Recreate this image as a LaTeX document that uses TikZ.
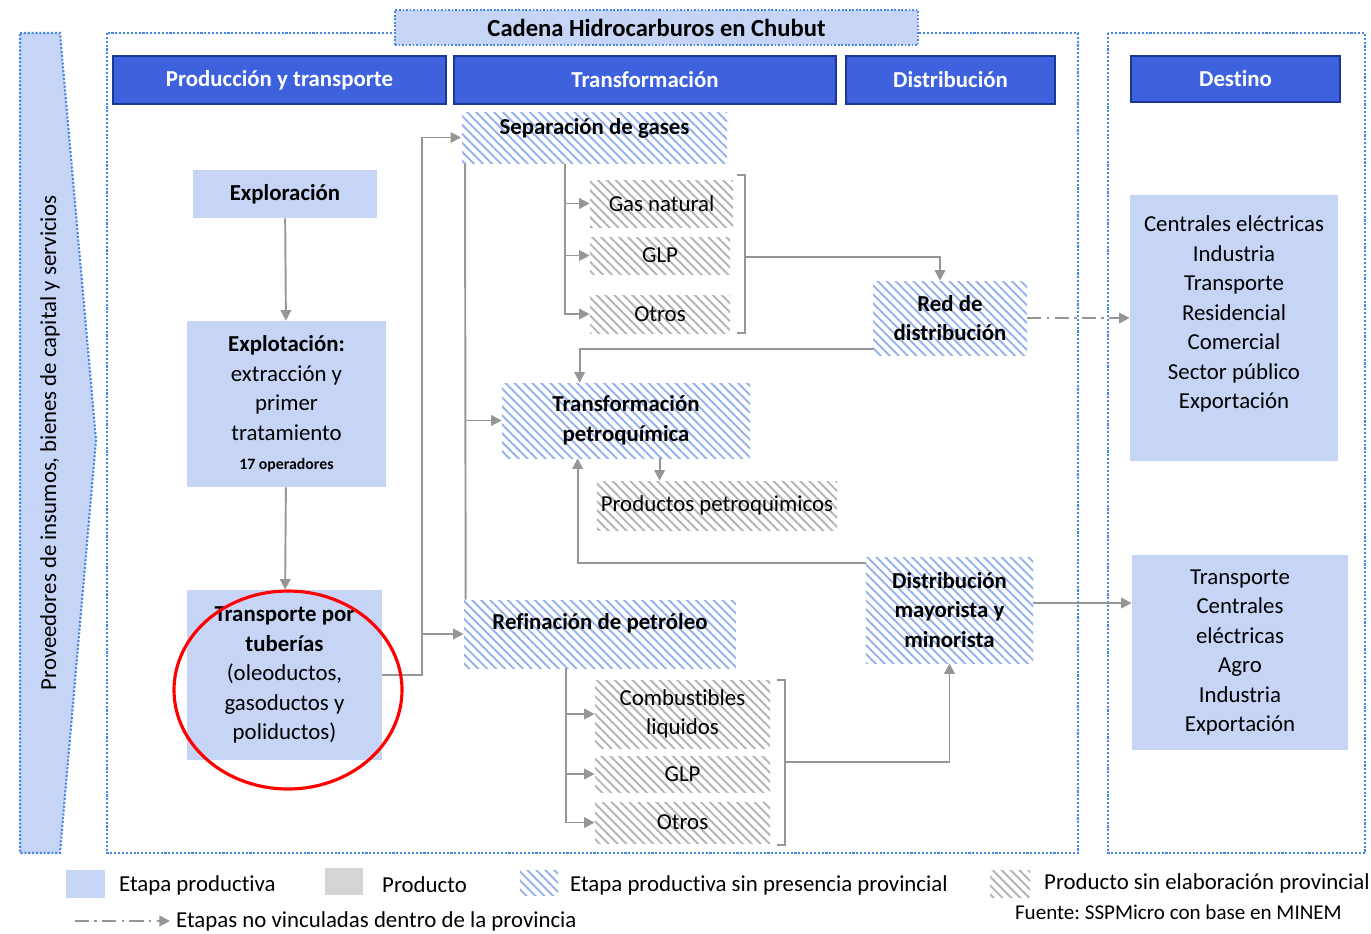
\documentclass[tikz,border=0pt]{standalone}
\usepackage{fontspec}
\setmainfont[Ligatures=NoCommon]{Carlito}
\usetikzlibrary{arrows.meta,calc,patterns.meta}
\definecolor{azulclaro}{RGB}{198,212,246}
\definecolor{cabeza}{RGB}{62,98,222}
\definecolor{cabezaborde}{RGB}{28,56,150}
\definecolor{marco}{RGB}{70,135,225}
\definecolor{rayaazul}{RGB}{150,178,232}
\definecolor{rayagris}{RGB}{180,180,180}
\definecolor{conector}{RGB}{150,150,150}
\definecolor{producto}{RGB}{212,212,212}
\frenchspacing
\tikzset{>={Triangle[length=6pt,width=6pt]}, line/.style={draw=conector, line width=1.1pt}, arr/.style={line, ->},
punteada/.style={dash pattern=on 8pt off 3pt on 1.5pt off 3pt},
sz/.style 2 args={minimum width=#1*0.02cm, minimum height=#2*0.02cm},
base/.style={inner sep=0pt, align=center, font=\fontsize{13}{16.8}\selectfont},
hatchazul/.style={pattern={Lines[angle=-45,distance=3.6pt,line width=1.1pt]}, pattern color=rayaazul},
hatchgris/.style={pattern={Lines[angle=-45,distance=3.6pt,line width=1.1pt]}, pattern color=rayagris},
etapa/.style={base, fill=azulclaro},
sinprov/.style={base, hatchazul, font=\fontsize{13}{16.8}\selectfont\bfseries},
prodsin/.style={base, hatchgris},
cabecera/.style={base, fill=cabeza, draw=cabezaborde, line width=0.8pt, text=white, font=\fontsize{13}{16}\selectfont\bfseries},
titulo/.style={base, fill=azulclaro, draw=marco, densely dotted, line width=1pt, font=\fontsize{14}{16}\selectfont\bfseries},
marcopunt/.style={draw=marco, line width=1.2pt, densely dotted},
note/.style={font=\fontsize{13}{15}\selectfont}}

\begin{document}
\begin{tikzpicture}[x=0.02cm, y=-0.02cm]
\useasboundingbox (0,0) rectangle (1371,933);

% marcos
\draw[marcopunt, fill=azulclaro] (20,33) -- (60,33) -- (96,440) -- (60,853) -- (20,853) -- cycle;
\node[base, rotate=90] (prov) at (50,443) {Proveedores de insumos, bienes de capital y servicios};
\draw[marcopunt] (107,33) rectangle (1078,853);
\draw[marcopunt] (1108,33) rectangle (1365,853);

% cabeceras
\node[titulo, sz={523}{35}] (tit) at (656.5,27.5) {Cadena Hidrocarburos en Chubut};
\node[cabecera, sz={333}{48}] (hprod) at (279.5,80) {Producción y transporte};
\node[cabecera, sz={382}{48}] (htrans) at (645,80) {Transformación};
\node[cabecera, sz={209}{48}] (hdist) at (950.5,80) {Distribución};
\node[cabecera, sz={209}{46}] (hdest) at (1235.5,79) {Destino};

% produccion y transporte
\node[etapa, sz={184}{48}] (explor) at (285,194) {\textbf{Exploración}};
\node[etapa, sz={199}{166}] (explot) at (286.5,404) {\textbf{Explotación:}\\extracción y\\primer\\tratamiento\\{\fontsize{9}{11}\selectfont\bfseries 17 operadores}};
\node[etapa, sz={195}{170}] (transp) at (284.5,675) {\textbf{Transporte por}\\\textbf{tuberías}\\(oleoductos,\\gasoductos y\\poliductos)};

% transformacion
\node[sinprov, sz={265}{51}, text depth=13pt] (sepgas) at (594.5,137.5) {Separación de gases};
\node[prodsin, sz={143}{47}] (gasnat) at (661.5,203.5) {Gas natural};
\node[prodsin, sz={140}{37}] (glpa) at (660,255.5) {GLP};
\node[prodsin, sz={140}{38}] (otrosa) at (660,314) {Otros};
\node[sinprov, sz={248}{75}] (petro) at (626,420.5) {Transformación\\petroquímica};
\node[prodsin, sz={240}{49}] (prodpetro) at (717,505.5) {Productos petroquimicos};
\node[sinprov, sz={272}{68}, text depth=14pt] (refin) at (600,634) {Refinación de petróleo};
\node[prodsin, sz={175}{68}] (comb) at (682.5,714) {Combustibles\\liquidos};
\node[prodsin, sz={175}{36}] (glpb) at (682.5,774) {GLP};
\node[prodsin, sz={175}{41}] (otrosb) at (682.5,822.5) {Otros};

% distribucion y destino
\node[sinprov, sz={154}{74}] (red) at (950,318) {Red de\\distribución};
\node[sinprov, sz={167}{106}] (distmay) at (949.5,610) {Distribución\\mayorista y\\minorista};
\node[etapa, sz={208}{266}, text depth=18pt] (desta) at (1234,328) {Centrales eléctricas\\Industria\\Transporte\\Residencial\\Comercial\\Sector público\\Exportación};
\node[etapa, sz={216}{195}] (destb) at (1240,652.5) {Transporte\\Centrales\\eléctricas\\Agro\\Industria\\Exportación};

% conectores
\draw[arr] (explor) -- (explot);
\draw[arr] (explot) -- (transp);
\coordinate (jx) at (422,0);
\draw[arr] (transp.east) -| (jx |- sepgas.west) -- (sepgas.west);
\draw[arr] (jx |- refin.west) -- (refin.west);
\coordinate (sx) at ($(sepgas.south west)+(4,0)$);
\draw[line] (sx) -- ($(refin.north west)+(2,0)$);
\draw[arr] (sx |- petro.west) -- (petro.west);
\coordinate (sb) at ($(sepgas.south west)+(104,0)$);
\foreach \p in {gasnat,glpa,otrosa}
  \draw[arr] (sb) |- (\p.west);
\draw[line] (737,175) -- (745,175) -- (745,333) -- (737,333);
\coordinate (ba) at (745,257);
\draw[arr] (ba) -| ($(red.north)+(-10,0)$);
\draw[arr] ($(red.south west)+(0,-6)$) -| ($(petro.north west)+(78,0)$);
\draw[arr, punteada] (red.east) -- (desta.west |- red.east);
\draw[arr] ($(petro.south west)+(158,0)$) -- ($(prodpetro.north west)+(63,0)$);
\draw[arr] ($(distmay.north west)+(0,6)$) -| ($(petro.south west)+(76,0)$);
\coordinate (rb) at ($(refin.south west)+(102,0)$);
\foreach \p in {comb,glpb,otrosb}
  \draw[arr] (rb) |- (\p.west);
\draw[line] (777,680) -- (785,680) -- (785,845) -- (777,845);
\coordinate (bb) at (785,762);
\draw[arr] (bb) -| (distmay.south);
\coordinate (de) at ($(distmay.east)+(0,-7)$);
\draw[arr] (de) -- (destb.west |- de);

% marca
\draw[red, line width=1.8pt] (288,690) ellipse [x radius=114, y radius=99];

% leyenda
\fill[azulclaro] (66,870) rectangle (105,898);
\node[note, anchor=west] (legeta) at (113,885) {Etapa productiva};
\fill[producto] (325,868) rectangle (363,895);
\node[note, anchor=west] (legprod) at (376,885) {Producto};
\fill[hatchazul] (520,870) rectangle (558,895);
\node[note, anchor=west] (legsin) at (564,885) {Etapa productiva sin presencia provincial};
\fill[hatchgris] (990,870) rectangle (1030,897);
\node[note, anchor=west] (legprodsin) at (1038,883) {Producto sin elaboración provincial};
\coordinate (lega) at (75,921);
\node[note, anchor=west] (legno) at (170,921) {Etapas no vinculadas dentro de la provincia};
\draw[arr, punteada] (lega) -- (legno.west);
\node[note, anchor=east, font=\fontsize{12}{14}\selectfont] (fuente) at (1348,912) {Fuente: SSPMicro con base en MINEM};
\end{tikzpicture}
\end{document}
